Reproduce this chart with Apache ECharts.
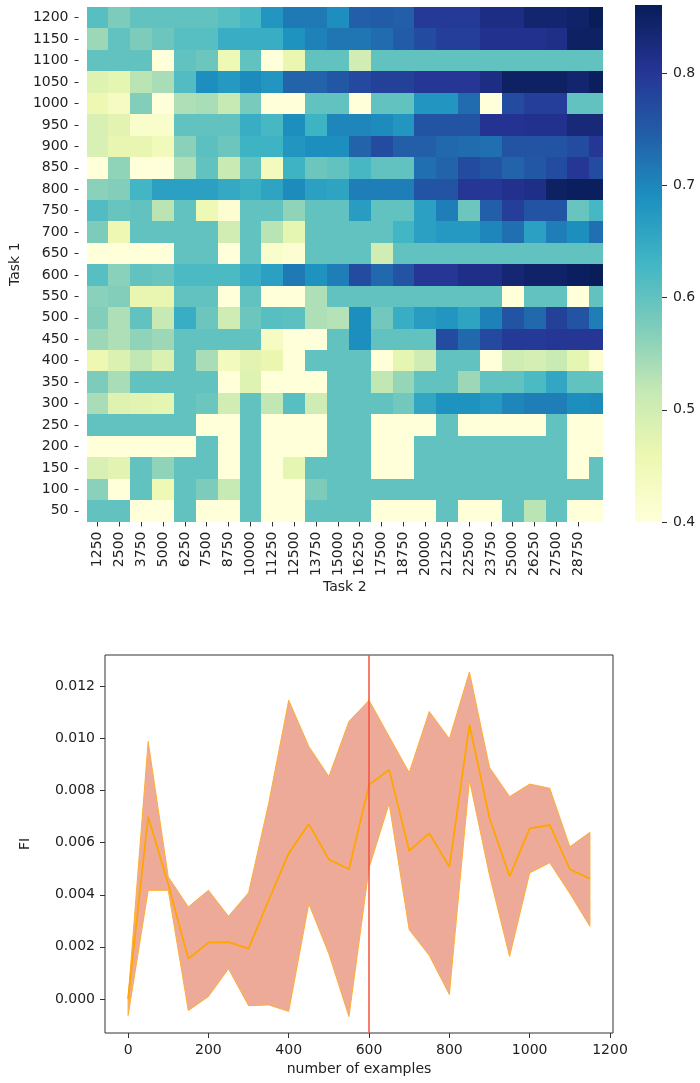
<!DOCTYPE html>
<html><head><meta charset="utf-8">
<script src="https://cdn.jsdelivr.net/npm/echarts@6/dist/echarts.min.js"></script>
<style>html,body{margin:0;padding:0;background:#fff}#c{width:700px;height:1083px}</style>
</head><body><div id="c"></div>
<script>
// ---------- heatmap data ----------
const taskOne = [50,100,150,200,250,300,350,400,450,500,550,600,650,700,750,800,850,900,950,1000,1050,1100,1150,1200];
// 24 columns; the last (partial) column carries no tick label
const taskTwo = ['1250','2500','3750','5000','6250','7500','8750','10000','11250','12500','13750','15000','16250','17500','18750','20000','21250','22500','23750','25000','26250','27500','28750',''];
// rows listed from Task 1 = 1200 (top) down to 50 (bottom)
const heatRows = [
 /*1200*/[0.61,0.575,0.60,0.60,0.60,0.60,0.61,0.625,0.68,0.715,0.715,0.69,0.745,0.75,0.745,0.795,0.795,0.795,0.82,0.82,0.84,0.84,0.845,0.86],
 /*1150*/[0.55,0.60,0.575,0.59,0.61,0.61,0.645,0.645,0.645,0.685,0.705,0.72,0.72,0.73,0.75,0.77,0.79,0.79,0.81,0.81,0.81,0.815,0.85,0.85],
 /*1100*/[0.60,0.60,0.60,0.40,0.60,0.59,0.45,0.60,0.40,0.46,0.60,0.60,0.50,0.60,0.60,0.60,0.60,0.60,0.60,0.60,0.60,0.60,0.60,0.60],
 /*1050*/[0.48,0.47,0.525,0.54,0.615,0.69,0.675,0.695,0.68,0.74,0.74,0.755,0.775,0.785,0.785,0.80,0.80,0.80,0.82,0.85,0.85,0.85,0.84,0.855],
 /*1000*/[0.455,0.43,0.57,0.40,0.535,0.54,0.515,0.58,0.40,0.40,0.60,0.60,0.40,0.60,0.60,0.68,0.68,0.73,0.40,0.77,0.79,0.79,0.60,0.60],
 /*950*/ [0.49,0.475,0.42,0.42,0.60,0.60,0.60,0.645,0.625,0.69,0.635,0.70,0.70,0.695,0.68,0.76,0.76,0.76,0.805,0.805,0.81,0.81,0.83,0.83],
 /*900*/ [0.49,0.465,0.465,0.445,0.565,0.605,0.59,0.635,0.635,0.68,0.69,0.69,0.74,0.77,0.745,0.745,0.735,0.73,0.725,0.76,0.76,0.76,0.77,0.80],
 /*850*/ [0.40,0.56,0.40,0.40,0.535,0.60,0.51,0.60,0.44,0.635,0.59,0.60,0.625,0.60,0.60,0.725,0.74,0.77,0.76,0.74,0.755,0.77,0.80,0.77],
 /*800*/ [0.565,0.57,0.63,0.665,0.665,0.665,0.65,0.64,0.66,0.695,0.665,0.66,0.71,0.71,0.71,0.76,0.76,0.80,0.80,0.81,0.815,0.85,0.855,0.855],
 /*750*/ [0.615,0.595,0.60,0.525,0.60,0.45,0.41,0.60,0.60,0.56,0.60,0.60,0.67,0.60,0.60,0.665,0.71,0.59,0.745,0.79,0.76,0.76,0.595,0.625],
 /*700*/ [0.575,0.455,0.60,0.60,0.60,0.60,0.50,0.60,0.525,0.47,0.60,0.60,0.60,0.60,0.63,0.665,0.675,0.675,0.70,0.725,0.665,0.71,0.69,0.725],
 /*650*/ [0.40,0.40,0.40,0.40,0.60,0.60,0.40,0.60,0.42,0.41,0.60,0.60,0.60,0.50,0.60,0.60,0.60,0.60,0.60,0.60,0.60,0.60,0.60,0.60],
 /*600*/ [0.61,0.565,0.60,0.595,0.62,0.62,0.62,0.645,0.665,0.715,0.685,0.71,0.77,0.735,0.76,0.80,0.80,0.815,0.815,0.835,0.845,0.845,0.855,0.86],
 /*550*/ [0.565,0.57,0.465,0.465,0.60,0.60,0.40,0.60,0.40,0.40,0.535,0.60,0.60,0.60,0.60,0.60,0.60,0.60,0.60,0.40,0.60,0.60,0.40,0.60],
 /*500*/ [0.57,0.535,0.60,0.515,0.645,0.59,0.505,0.59,0.61,0.605,0.535,0.53,0.69,0.585,0.645,0.67,0.68,0.66,0.705,0.76,0.735,0.785,0.76,0.71],
 /*450*/ [0.55,0.535,0.56,0.55,0.60,0.60,0.60,0.60,0.43,0.40,0.40,0.60,0.69,0.60,0.60,0.60,0.77,0.735,0.775,0.795,0.795,0.80,0.80,0.80],
 /*400*/ [0.455,0.485,0.52,0.485,0.60,0.54,0.44,0.475,0.46,0.40,0.60,0.60,0.60,0.40,0.47,0.505,0.60,0.60,0.40,0.505,0.495,0.51,0.47,0.41],
 /*350*/ [0.575,0.54,0.60,0.60,0.60,0.60,0.40,0.48,0.40,0.40,0.40,0.60,0.60,0.52,0.555,0.60,0.60,0.55,0.60,0.60,0.62,0.655,0.60,0.60],
 /*300*/ [0.54,0.48,0.475,0.47,0.60,0.59,0.50,0.60,0.52,0.61,0.505,0.60,0.60,0.60,0.585,0.655,0.685,0.685,0.675,0.70,0.71,0.71,0.69,0.695],
 /*250*/ [0.60,0.60,0.60,0.60,0.60,0.40,0.40,0.60,0.40,0.40,0.40,0.60,0.60,0.40,0.40,0.40,0.60,0.40,0.40,0.40,0.40,0.60,0.40,0.40],
 /*200*/ [0.40,0.40,0.40,0.40,0.40,0.60,0.40,0.60,0.40,0.40,0.40,0.60,0.60,0.40,0.40,0.60,0.60,0.60,0.60,0.60,0.60,0.60,0.40,0.40],
 /*150*/ [0.49,0.475,0.60,0.56,0.60,0.60,0.40,0.60,0.40,0.47,0.60,0.60,0.60,0.40,0.40,0.60,0.60,0.60,0.60,0.60,0.60,0.60,0.40,0.60],
 /*100*/ [0.565,0.40,0.60,0.45,0.60,0.575,0.515,0.60,0.40,0.40,0.575,0.60,0.60,0.60,0.60,0.60,0.60,0.60,0.60,0.60,0.60,0.60,0.60,0.60],
 /*50*/  [0.60,0.60,0.40,0.40,0.60,0.40,0.40,0.60,0.40,0.40,0.60,0.60,0.60,0.40,0.40,0.40,0.60,0.40,0.40,0.60,0.525,0.60,0.40,0.40]
];
const colorbarTicks = [0.4,0.5,0.6,0.7,0.8];

// ---------- line chart data ----------
const examples = [0,50,100,150,200,250,300,350,400,450,500,550,600,650,700,750,800,850,900,950,1000,1050,1100,1150];
const fiMean  = [0.0000,0.0070,0.0044,0.00154,0.00216,0.00218,0.00193,0.00379,0.00559,0.00672,0.00536,0.00498,0.00822,0.0088,0.00569,0.00636,0.00507,0.01053,0.00694,0.00471,0.00655,0.00668,0.00498,0.00462];
const fiUpper = [0.00002,0.00989,0.00469,0.00353,0.00417,0.00317,0.00408,0.00751,0.01147,0.0097,0.00854,0.01066,0.01147,0.01008,0.00869,0.01104,0.00999,0.01256,0.00889,0.00777,0.00825,0.00809,0.00584,0.0064];
const fiLower = [-0.00064,0.00417,0.00417,-0.00045,0.00009,0.00116,-0.00026,-0.00023,-0.00048,0.00366,0.00173,-0.00068,0.00503,0.00751,0.00266,0.00167,0.00017,0.00841,0.00475,0.00163,0.00484,0.00523,0.00405,0.00279];
const fiTicks = [0,0.002,0.004,0.006,0.008,0.010,0.012];
const exampleTicks = [0,200,400,600,800,1000,1200];
const markerX = 600;

// ---------- build ----------
const ylgnbu = ['#ffffd9','#edf8b1','#c7e9b4','#7fcdbb','#41b6c4','#1d91c0','#225ea8','#253494','#081d58'];
const vMin = 0.4, vMax = 0.861;
const nRows = taskOne.length;
const cells = [];
heatRows.forEach((row, k) => {
  const r = nRows - 1 - k;
  row.forEach((v, c) => cells.push([c, r, v]));
});
const font = {fontFamily: 'DejaVu Sans', fontSize: 14, color: '#222'};
const colIdx = taskTwo.map((t,i)=>i).filter(i=>taskTwo[i] !== '');
const rowIdx = taskOne.map((t,i)=>i);
const noLine = {show: false, onZero: false};

const chart = echarts.init(document.getElementById('c'), null, {renderer: 'canvas'});
chart.setOption({
  backgroundColor: '#fff',
  animation: false,
  grid: [
    {left: 80, top: 7, width: 523, height: 514.5, containLabel: false},
    {left: 635, top: 5, width: 27, height: 517, show: true, borderWidth: 0,
     backgroundColor: {type: 'linear', x: 0, y: 0, x2: 0, y2: 1,
       colorStops: ylgnbu.slice().reverse().map((c, i) => ({offset: i / (ylgnbu.length - 1), color: c}))}},
    {left: 105, top: 655, width: 508, height: 378, show: true, borderColor: '#333', borderWidth: 1}
  ],
  visualMap: {type: 'continuous', show: false, min: vMin, max: vMax, dimension: 2, seriesIndex: 0,
    inRange: {color: ylgnbu}},
  xAxis: [
    {gridIndex: 0, type: 'value', min: -0.5, max: 23.13, position: 'bottom',
     axisLine: noLine, splitLine: {show: false},
     axisTick: {show: true, length: 5, lineStyle: {color: '#333'}, customValues: colIdx},
     axisLabel: Object.assign({rotate: 90, margin: 10, customValues: colIdx, formatter: v => taskTwo[Math.round(v)]}, font),
     name: 'Task 2', nameLocation: 'middle', nameGap: 59, nameTextStyle: font},
    {gridIndex: 1, type: 'value', show: false, min: 0, max: 1, axisLine: noLine},
    {gridIndex: 2, type: 'value', min: -57.5, max: 1207.5, position: 'bottom',
     axisLine: noLine, splitLine: {show: false},
     axisTick: {show: true, length: 5, lineStyle: {color: '#333'}, customValues: exampleTicks},
     axisLabel: Object.assign({margin: 10, customValues: exampleTicks, formatter: v => String(v)}, font),
     name: 'number of examples', nameLocation: 'middle', nameGap: 29, nameTextStyle: font}
  ],
  yAxis: [
    {gridIndex: 0, type: 'value', min: -0.5, max: 23.5, offset: 8, position: 'left',
     axisLine: noLine, splitLine: {show: false},
     axisTick: {show: true, length: 4, lineStyle: {color: '#333'}, customValues: rowIdx},
     axisLabel: Object.assign({margin: 10, customValues: rowIdx, formatter: v => String(taskOne[Math.round(v)])}, font),
     name: 'Task 1', nameLocation: 'middle', nameGap: 53, nameTextStyle: font},
    {gridIndex: 1, type: 'value', min: vMin, max: vMax, position: 'right',
     axisLine: noLine, splitLine: {show: false},
     axisTick: {show: true, length: 5, lineStyle: {color: '#333'}, customValues: colorbarTicks},
     axisLabel: Object.assign({margin: 11, customValues: colorbarTicks, formatter: v => v.toFixed(1)}, font)},
    {gridIndex: 2, type: 'value', min: -0.00131, max: 0.01321, position: 'left',
     axisLine: noLine, splitLine: {show: false},
     axisTick: {show: true, length: 5, lineStyle: {color: '#333'}, customValues: fiTicks},
     axisLabel: Object.assign({margin: 10, customValues: fiTicks, formatter: v => v.toFixed(3)}, font),
     name: 'FI', nameLocation: 'middle', nameGap: 73, nameTextStyle: font}
  ],
  series: [
    {type: 'custom', xAxisIndex: 0, yAxisIndex: 0, data: cells, encode: {x: 0, y: 1},
     renderItem: function (params, api) {
       const c = api.value(0), r = api.value(1);
       const p0 = api.coord([c - 0.5, r + 0.5]);
       const p1 = api.coord([c + 0.5, r - 0.5]);
       const cs = params.coordSys;
       const x0 = Math.max(Math.round(p0[0]), Math.round(cs.x));
       const x1 = Math.min(Math.round(p1[0]), Math.round(cs.x + cs.width));
       const y0 = Math.round(p0[1]), y1 = Math.round(p1[1]);
       return {type: 'rect', shape: {x: x0, y: y0, width: x1 - x0, height: y1 - y0},
               style: {fill: api.visual('color')}};
     }},
    {type: 'custom', xAxisIndex: 2, yAxisIndex: 2, z: 1,
     data: examples.map((x, i) => [x, fiUpper[i], fiLower[i]]), encode: {x: 0, y: [1, 2]},
     renderItem: function (params, api) {
       if (params.dataIndex !== 0) return null;
       const pts = [];
       for (let i = 0; i < examples.length; i++) pts.push(api.coord([examples[i], fiUpper[i]]));
       for (let i = examples.length - 1; i >= 0; i--) pts.push(api.coord([examples[i], fiLower[i]]));
       return {type: 'polygon', shape: {points: pts},
               style: {fill: '#eeaa99', stroke: '#ffae33', lineWidth: 1}};
     }},
    {type: 'line', xAxisIndex: 2, yAxisIndex: 2, z: 2, showSymbol: false,
     data: examples.map((x, i) => [x, fiMean[i]]),
     lineStyle: {color: '#ffa500', width: 1.8},
     markLine: {silent: true, symbol: 'none', label: {show: false}, z: 5,
       lineStyle: {color: '#f4503c', width: 1.5, type: 'solid'},
       data: [{xAxis: markerX}]}}
  ]
});
</script></body></html>
